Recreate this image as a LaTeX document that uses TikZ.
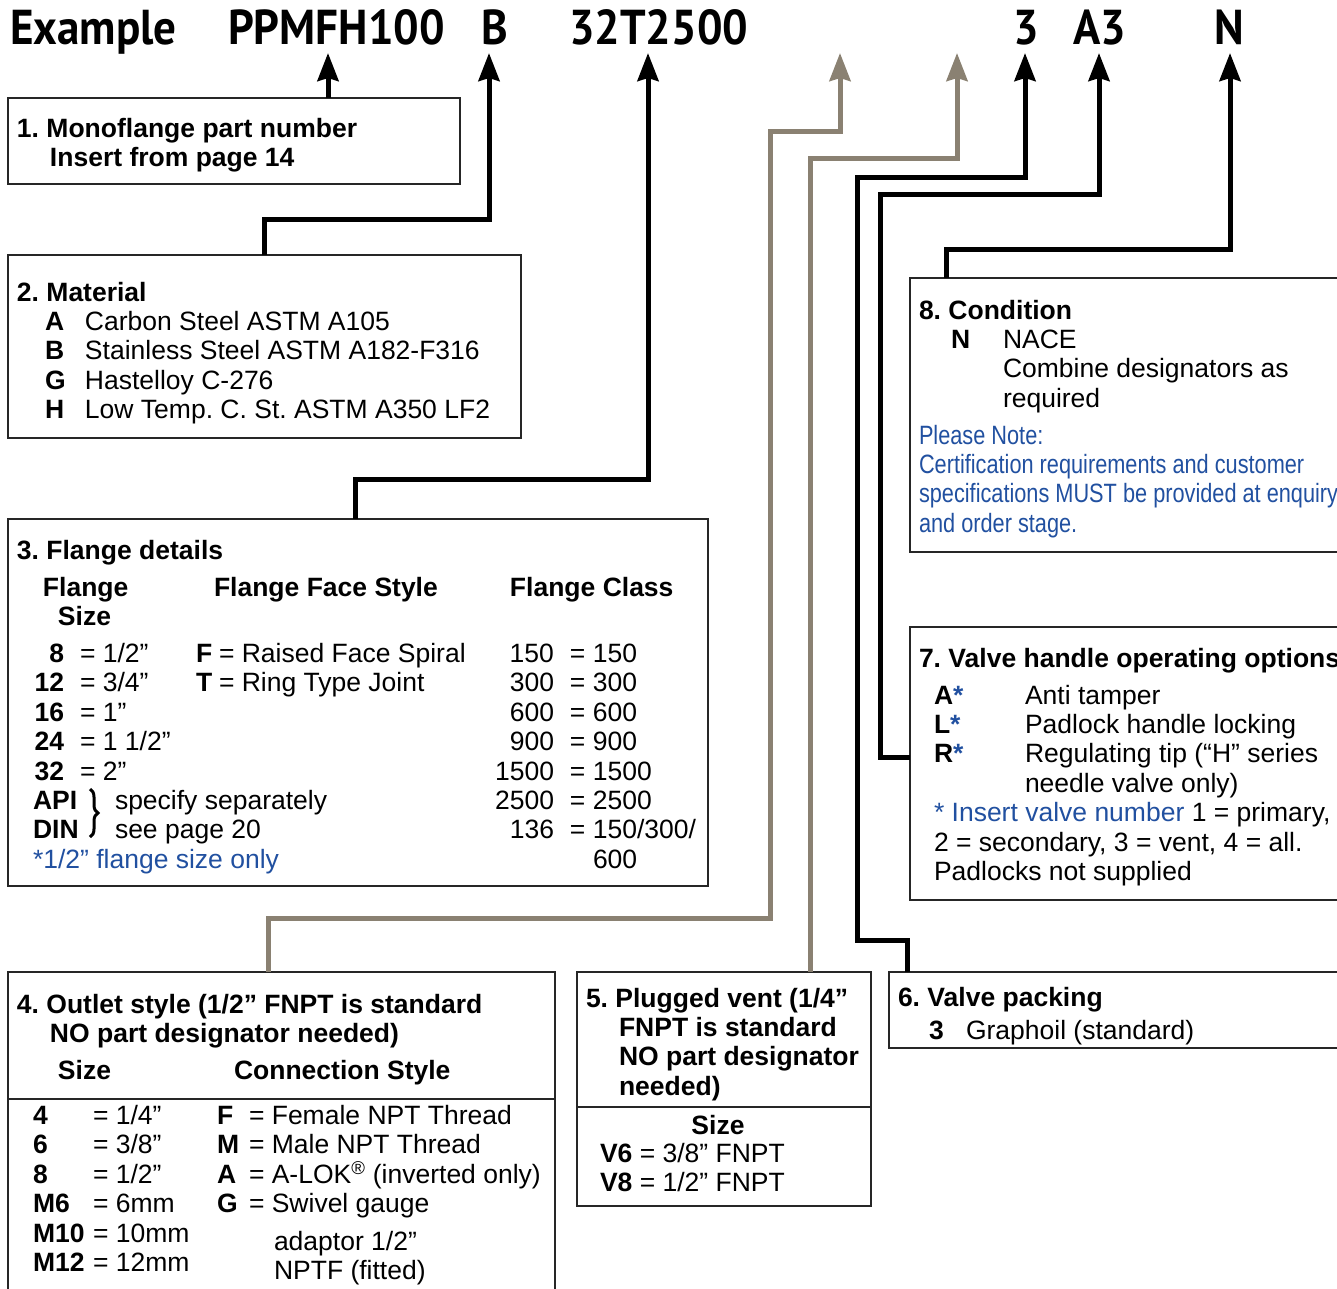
\documentclass[tikz,border=0pt]{standalone}
\usepackage{fontspec}
\setmainfont{Liberation Sans}
\newfontfamily\titlefont[FakeStretch=0.92]{PT Sans}
\newfontfamily\condfont[FakeStretch=0.82]{Liberation Sans}
\usetikzlibrary{arrows.meta,decorations.pathreplacing}
\definecolor{conngrey}{HTML}{8A8172}
\definecolor{noteblue}{HTML}{2150A0}
\definecolor{boxline}{HTML}{262626}
\frenchspacing
\newcommand\At[2]{\makebox[0pt][l]{\hspace*{#1pt}#2}}
\newcommand\Ar[2]{\makebox[0pt][l]{\hspace*{#1pt}\makebox[0pt][r]{#2}}}
\newcommand\Lines[1]{\begin{minipage}[t]{20pt}\fontsize{26.5}{29.4}\selectfont\frenchspacing\strut#1\end{minipage}}
\begin{document}
\begin{tikzpicture}[x=1pt,y=-1pt,
  box/.style={draw=boxline, line width=1.4pt, anchor=north west, inner sep=0pt, outer sep=0pt},
  txt/.style={anchor=base west, inner sep=0pt, outer sep=0pt},
  ttl/.style={anchor=base west, inner sep=0pt, font=\titlefont\bfseries\fontsize{49}{51}\selectfont},
  conn/.style={line width=5pt, -{Stealth[length=28pt,width=21pt,inset=3pt]}},
  connk/.style={conn, draw=black},
  conng/.style={conn, draw=conngrey},
  divider/.style={draw=boxline, line width=1.4pt}]
\useasboundingbox (0,0) rectangle (1337,1288);
\clip (0,0) rectangle (1337,1288);

% title
\node[ttl] (tEx) at (10,44) {Example};
\node[ttl] (tPP) at (228,44) {PPMFH100};
\node[ttl] (tB) at (481,44) {B};
\node[ttl] (t32) at (569,44) {32T2500};
\node[ttl] (t3) at (1013,44) {3};
\node[ttl] (tA3) at (1073,44) {A3};
\node[ttl] (tN) at (1214,44) {N};

% boxes
\node[box, minimum width=452pt, minimum height=86pt] (b1) at (8,98) {};
\node[box, minimum width=513pt, minimum height=183pt] (b2) at (8,255) {};
\node[box, minimum width=700pt, minimum height=367pt] (b3) at (8,519) {};
\node[box, minimum width=547pt, minimum height=340pt] (b4) at (8,972) {};
\node[box, minimum width=294pt, minimum height=234pt] (b5) at (577,972) {};
\node[box, minimum width=470pt, minimum height=76pt] (b6) at (889,972) {};
\node[box, minimum width=450pt, minimum height=273pt] (b7) at (910,627) {};
\node[box, minimum width=450pt, minimum height=274pt] (b8) at (910,278) {};

\coordinate (d4) at (0,1099);
\coordinate (d5) at (0,1107);
\draw[divider] (b4.west |- d4) -- (b4.east |- d4);
\draw[divider] (b5.west |- d5) -- (b5.east |- d5);

% arrow tips
\coordinate (a1) at (328,53);
\coordinate (a2) at (489,53);
\coordinate (a3) at (648,53);
\coordinate (a4) at (840,53);
\coordinate (a5) at (957,53);
\coordinate (a6) at (1025,53);
\coordinate (a7) at (1099,53);
\coordinate (a8) at (1230,53);
% start columns and bend rows
\coordinate (s2) at (264,0);
\coordinate (s3) at (355,0);
\coordinate (s4) at (268,0);
\coordinate (s5) at (810,0);
\coordinate (s6) at (907,0);
\coordinate (s7) at (0,757);
\coordinate (s8) at (946,0);
\coordinate (r2) at (0,219);
\coordinate (r3) at (0,479);
\coordinate (r4a) at (770,918);
\coordinate (r4b) at (0,131);
\coordinate (r5) at (0,158);
\coordinate (r6a) at (857,940);
\coordinate (r6b) at (0,177);
\coordinate (r7) at (880,194);
\coordinate (r8) at (0,249);

% connectors
\draw[connk] (a1 |- b1.north) -- (a1);
\draw[connk] (s2 |- b2.north) -- (s2 |- r2) -- (a2 |- r2) -- (a2);
\draw[connk] (s3 |- b3.north) -- (s3 |- r3) -- (a3 |- r3) -- (a3);
\draw[conng] (s4 |- b4.north) -- (s4 |- r4a) -- (r4a) -- (r4a |- r4b) -- (a4 |- r4b) -- (a4);
\draw[conng] (s5 |- b5.north) -- (s5 |- r5) -- (a5 |- r5) -- (a5);
\draw[connk] (s6 |- b6.north) -- (s6 |- r6a) -- (r6a) -- (r6a |- r6b) -- (a6 |- r6b) -- (a6);
\draw[connk] (b7.west |- s7) -- (r7 |- s7) -- (r7) -- (a7 |- r7) -- (a7);
\draw[connk] (s8 |- b8.north) -- (s8 |- r8) -- (a8 |- r8) -- (a8);

% box 1
\node[txt] (x1) at (0,137) {\Lines{%
\At{17}{\textbf{1. Monoflange part number}}\\
\At{50}{\textbf{Insert from page 14}}}};

% box 2
\node[txt] (x2) at (0,301) {\Lines{%
\At{17}{\textbf{2. Material}}\\
\At{45}{\textbf{A}}\At{85}{Carbon Steel ASTM A105}\\
\At{45}{\textbf{B}}\At{85}{Stainless Steel ASTM A182-F316}\\
\At{45}{\textbf{G}}\At{85}{Hastelloy C-276}\\
\At{45}{\textbf{H}}\At{85}{Low Temp. C. St. ASTM A350 LF2}}};

% box 3
\node[txt] (x3) at (0,559) {\Lines{%
\At{17}{\textbf{3. Flange details}}\\[7.6pt]
\At{43}{\textbf{Flange}}\At{214}{\textbf{Flange Face Style}}\At{510}{\textbf{Flange Class}}\\
\At{58}{\textbf{Size}}\\[7.6pt]
\Ar{64}{\textbf{8}}\At{80}{= 1/2”}\At{196}{\textbf{F}}\At{219}{= Raised Face Spiral}\Ar{554}{150}\At{570}{= 150}\\
\Ar{64}{\textbf{12}}\At{80}{= 3/4”}\At{196}{\textbf{T}}\At{219}{= Ring Type Joint}\Ar{554}{300}\At{570}{= 300}\\
\Ar{64}{\textbf{16}}\At{80}{= 1”}\Ar{554}{600}\At{570}{= 600}\\
\Ar{64}{\textbf{24}}\At{80}{= 1 1/2”}\Ar{554}{900}\At{570}{= 900}\\
\Ar{64}{\textbf{32}}\At{80}{= 2”}\Ar{554}{1500}\At{570}{= 1500}\\
\At{33}{\textbf{API}}\At{115}{specify separately}\Ar{554}{2500}\At{570}{= 2500}\\
\At{33}{\textbf{DIN}}\At{115}{see page 20}\Ar{554}{136}\At{570}{= 150/300/}\\
\At{33}{\color{noteblue}*1/2” flange size only}\At{593}{600}}};
\draw[line width=3pt, decorate, decoration={brace, amplitude=8pt}] (90,789) -- (90,837);

% box 4
\node[txt] (x4) at (0,1013) {\Lines{%
\At{17}{\textbf{4. Outlet style (1/2” FNPT is standard}}\\
\At{50}{\textbf{NO part designator needed)}}\\[7.6pt]
\At{58}{\textbf{Size}}\At{234}{\textbf{Connection Style}}\\[15.6pt]
\At{33}{\textbf{4}}\At{93}{= 1/4”}\At{217}{\textbf{F}}\At{249}{= Female NPT Thread}\\
\At{33}{\textbf{6}}\At{93}{= 3/8”}\At{217}{\textbf{M}}\At{249}{= Male NPT Thread}\\
\At{33}{\textbf{8}}\At{93}{= 1/2”}\At{217}{\textbf{A}}\At{249}{= A-LOK\textsuperscript{®} (inverted only)}\\
\At{33}{\textbf{M6}}\At{93}{= 6mm}\At{217}{\textbf{G}}\At{249}{= Swivel gauge}\\
\At{33}{\textbf{M10}}\At{93}{= 10mm}\\
\At{33}{\textbf{M12}}\At{93}{= 12mm}}};
\node[txt] (x4b) at (0,1250) {\Lines{%
\At{274}{adaptor 1/2”}\\
\At{274}{NPTF (fitted)}}};

% box 5
\node[txt] (x5) at (0,1007) {\Lines{%
\At{586}{\textbf{5. Plugged vent (1/4”}}\\
\At{619}{\textbf{FNPT is standard}}\\
\At{619}{\textbf{NO part designator}}\\
\At{619}{\textbf{needed)}}}};
\node[txt, anchor=base] (x5s) at (718,1134) {\fontsize{26.5}{29.4}\selectfont\textbf{Size}};
\node[txt] (x5b) at (0,1162) {\Lines{%
\At{600}{\textbf{V6} = 3/8” FNPT}\\
\At{600}{\textbf{V8} = 1/2” FNPT}}};

% box 6
\node[txt] (x6) at (0,1006) {\Lines{%
\At{898}{\textbf{6. Valve packing}}\\[3.6pt]
\At{929}{\textbf{3}}\At{966}{Graphoil (standard)}}};

% box 7
\node[txt] (x7) at (0,667) {\Lines{%
\At{919}{\textbf{7. Valve handle operating options}}\\[7.6pt]
\At{934}{\textbf{A}\textcolor{noteblue}{\textbf{*}}}\At{1025}{Anti tamper}\\
\At{934}{\textbf{L}\textcolor{noteblue}{\textbf{*}}}\At{1025}{Padlock handle locking}\\
\At{934}{\textbf{R}\textcolor{noteblue}{\textbf{*}}}\At{1025}{Regulating tip (“H” series}\\
\At{1025}{needle valve only)}\\
\At{934}{\textcolor{noteblue}{* Insert valve number} 1 = primary,}\\
\At{934}{2 = secondary, 3 = vent, 4 = all.}\\
\At{934}{Padlocks not supplied}}};

% box 8
\node[txt] (x8) at (0,319) {\Lines{%
\At{919}{\textbf{8. Condition}}\\
\At{951}{\textbf{N}}\At{1003}{NACE}\\
\At{1003}{Combine designators as}\\
\At{1003}{required}}};
\node[txt] (x8n) at (0,444) {\Lines{\condfont\color{noteblue}%
\At{919}{Please Note:}\\
\At{919}{Certification requirements and customer}\\
\At{919}{specifications MUST be provided at enquiry}\\
\At{919}{and order stage.}}};
\end{tikzpicture}
\end{document}
